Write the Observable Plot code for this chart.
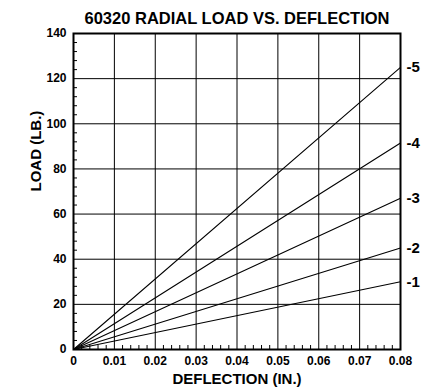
<!DOCTYPE html>
<html>
<head>
<meta charset="utf-8">
<script src="https://cdn.jsdelivr.net/npm/d3@7"></script>
<script src="https://cdn.jsdelivr.net/npm/@observablehq/plot@0.6"></script>
<style>
  html, body { margin: 0; padding: 0; background: #fff; }
</style>
</head>
<body>
<div id="chart"></div>
<script>
const title = "60320 RADIAL LOAD VS. DEFLECTION";
const xLabel = "DEFLECTION (IN.)";
const yLabel = "LOAD (LB.)";
const xTicks = [0, 0.01, 0.02, 0.03, 0.04, 0.05, 0.06, 0.07, 0.08];
const xTickLabels = ["0", "0.01", "0.02", "0.03", "0.04", "0.05", "0.06", "0.07", "0.08"];
const yTicks = [0, 20, 40, 60, 80, 100, 120, 140];
const yTickLabels = ["0", "20", "40", "60", "80", "100", "120", "140"];
const xMinorTicks = [0.002,0.004,0.006,0.008,0.012,0.014,0.016,0.018,0.022,0.024,0.026,0.028,0.032,0.034,0.036,0.038,0.042,0.044,0.046,0.048,0.052,0.054,0.056,0.058,0.062,0.064,0.066,0.068,0.072,0.074,0.076,0.078];
const yMinorTicks = [4,8,12,16,24,28,32,36,44,48,52,56,64,68,72,76,84,88,92,96,104,108,112,116,124,128,132,136];
const seriesNames = ["-1", "-2", "-3", "-4", "-5"];
const deflectionPoints = [0, 0.08];
const loadAtStart = [0, 0, 0, 0, 0];
const loadAtEnd = [30, 45, 67, 91.5, 125];

const lineData = [];
seriesNames.forEach((s, i) => {
  lineData.push({series: s, x: deflectionPoints[0], y: loadAtStart[i]});
  lineData.push({series: s, x: deflectionPoints[1], y: loadAtEnd[i]});
});
const labelData = seriesNames.map((s, i) => ({series: s, x: deflectionPoints[1], y: loadAtEnd[i]}));

const chart = Plot.plot({
  width: 431,
  height: 388,
  marginLeft: 73,
  marginRight: 31,
  marginTop: 33,
  marginBottom: 39,
  style: {fontFamily: "'Liberation Sans', Arial, sans-serif", fontWeight: "bold", fontSize: "12px", color: "black", background: "white"},
  x: {domain: [0, 0.08]},
  y: {domain: [0, 140]},
  marks: [
    Plot.ruleX(xTicks.slice(1, -1), {stroke: "black", strokeWidth: 1}),
    Plot.ruleY(yTicks.slice(1, -1), {stroke: "black", strokeWidth: 1}),
    Plot.tickX(xMinorTicks, {stroke: "black", insetTop: 312}),
    Plot.tickY(yMinorTicks, {stroke: "black", insetRight: 323}),
    Plot.line(lineData, {x: "x", y: "y", z: "series", stroke: "black", strokeWidth: 1.1}),
    Plot.text(labelData, {x: "x", y: "y", text: "series", textAnchor: "start", dx: 6, fontSize: 15, fill: "black"}),
    Plot.frame({stroke: "black", strokeWidth: 2}),
    Plot.axisX({ticks: xTicks, tickSize: 0, tickPadding: 7, tickFormat: (d, i) => xTickLabels[i], label: null, fontSize: 12}),
    Plot.axisY({ticks: yTicks, tickSize: 0, tickPadding: 7, tickFormat: (d, i) => yTickLabels[i], label: null, fontSize: 12}),
    Plot.text([xLabel], {frameAnchor: "bottom", lineAnchor: "middle", dy: 30, fontSize: 15, fill: "black"}),
    Plot.text([yLabel], {frameAnchor: "left", lineAnchor: "middle", dx: -37, rotate: -90, fontSize: 15, fill: "black"}),
    Plot.text([title], {frameAnchor: "top", lineAnchor: "middle", dy: -15, fontSize: 16.5, fill: "black"})
  ]
});
document.getElementById("chart").appendChild(chart);
</script>
</body>
</html>
